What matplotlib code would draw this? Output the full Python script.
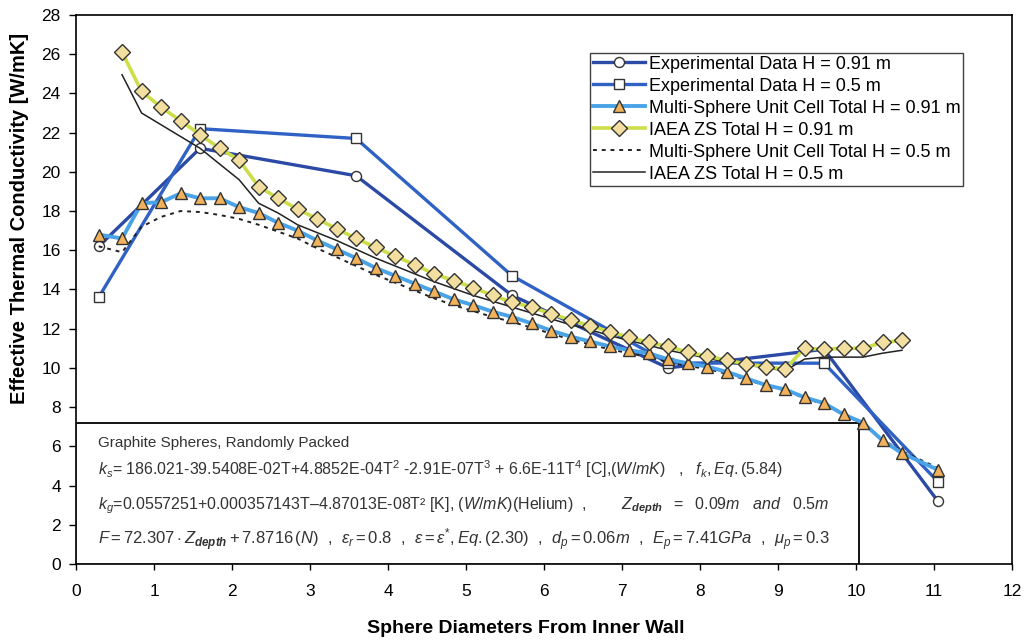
import matplotlib
matplotlib.use("Agg")
import matplotlib.pyplot as plt
from matplotlib.patches import Rectangle

plt.rcParams['font.family'] = ['Liberation Sans', 'DejaVu Sans']
plt.rcParams['mathtext.fontset'] = 'custom'
plt.rcParams['mathtext.rm'] = 'Liberation Sans'
plt.rcParams['mathtext.it'] = 'Liberation Sans:italic'
plt.rcParams['mathtext.bf'] = 'Liberation Sans:italic:bold'

# sphere-diameter positions of the model results
pos = [0.29, 0.59, 0.84, 1.09, 1.34, 1.59, 1.84, 2.09, 2.34, 2.59, 2.84,
       3.09, 3.34, 3.59, 3.84, 4.09, 4.34, 4.59, 4.84, 5.09, 5.34, 5.59,
       5.84, 6.09, 6.34, 6.59, 6.84, 7.09, 7.34, 7.59, 7.84, 8.09, 8.34,
       8.59, 8.84, 9.09, 9.34, 9.59, 9.84, 10.09, 10.34, 10.59, 11.05]
iaea_pos = pos[1:-1]

exp_pos = [0.29, 1.59, 3.59, 5.59, 7.59, 9.59, 11.05]
exp_091 = [16.2, 21.2, 19.8, 13.7, 10.0, 10.95, 3.2]
exp_05 = [13.6, 22.2, 21.7, 14.7, 10.25, 10.24, 4.2]

multi_091 = [16.8, 16.6, 18.4, 18.45, 18.9, 18.65, 18.65, 18.2, 17.9, 17.4,
             17.0, 16.5, 16.05, 15.6, 15.1, 14.7, 14.3, 13.9, 13.5, 13.2,
             12.87, 12.6, 12.27, 11.9, 11.6, 11.35, 11.1, 10.9, 10.75, 10.44,
             10.24, 10.07, 9.8, 9.47, 9.13, 8.9, 8.5, 8.2, 7.63, 7.2, 6.3,
             5.65, 4.8]
multi_05 = [16.2, 15.9, 17.2, 17.7, 18.0, 17.95, 17.8, 17.6, 17.3, 16.95,
            16.6, 16.1, 15.65, 15.2, 14.75, 14.35, 13.95, 13.55, 13.2, 12.9,
            12.6, 12.35, 12.05, 11.75, 11.45, 11.2, 10.95, 10.75, 10.55, 10.3,
            10.1, 9.95, 9.7, 9.4, 9.1, 8.85, 8.45, 8.15, 7.6, 7.15, 6.35,
            5.75, 4.9]
iaea_091 = [26.1, 24.1, 23.3, 22.6, 21.9, 21.2, 20.6, 19.25, 18.65, 18.1,
            17.6, 17.1, 16.6, 16.15, 15.7, 15.26, 14.8, 14.45, 14.1, 13.7,
            13.35, 13.1, 12.76, 12.45, 12.14, 11.85, 11.56, 11.3, 11.1, 10.8,
            10.6, 10.4, 10.2, 10.07, 9.93, 11.0, 10.95, 11.0, 11.0, 11.3, 11.4]
iaea_05 = [24.95, 23.0, 22.4, 21.8, 21.2, 20.4, 19.6, 18.4, 17.9, 17.3,
           16.9, 16.5, 16.05, 15.6, 15.2, 14.8, 14.4, 14.05, 13.7, 13.4,
           13.1, 12.8, 12.5, 12.2, 11.95, 11.65, 11.4, 11.15, 10.9, 10.7,
           10.5, 10.3, 10.15, 10.0, 9.85, 10.45, 10.55, 10.55, 10.55, 10.75,
           10.9]

fig = plt.figure(figsize=(10.29, 6.40), dpi=100)
ax = fig.add_axes([0.0739, 0.11875, 0.9096, 0.8579])

ax.plot(exp_pos, exp_091, color='#2b4aa6', lw=2.4, marker='o', ms=7.2,
        mfc='white', mec='#333333', mew=1.0, zorder=4,
        label='Experimental Data H = 0.91 m')
ax.plot(exp_pos, exp_05, color='#2f62c4', lw=2.4, marker='s', ms=6.8,
        mfc='white', mec='#333333', mew=1.0, zorder=4,
        label='Experimental Data H = 0.5 m')
ax.plot(pos, multi_091, color='#4aa3e6', lw=2.8, marker='^', ms=8.5,
        mfc='#f2b25c', mec='#333333', mew=1.0, zorder=5,
        label='Multi-Sphere Unit Cell Total H = 0.91 m')
ax.plot(iaea_pos, iaea_091, color='#cdde4a', lw=2.6, marker='D', ms=8,
        mfc='#f2dfa0', mec='#333333', mew=1.0, zorder=6,
        label='IAEA ZS Total H = 0.91 m')
ax.plot(pos, multi_05, color='#222222', lw=1.4, ls=(0, (2, 2.5)), zorder=4.5,
        label='Multi-Sphere Unit Cell Total H = 0.5 m')
ax.plot(iaea_pos, iaea_05, color='#222222', lw=1.1, zorder=4.5,
        label='IAEA ZS Total H = 0.5 m')

ax.set_xlim(0, 12)
ax.set_ylim(0, 28)
ax.set_xticks(range(0, 13))
ax.set_yticks(range(0, 29, 2))
ax.tick_params(axis='x', direction='out', length=4, width=1, pad=10.5, labelsize=12.5)
ax.tick_params(axis='y', direction='out', length=5, width=1, pad=6, labelsize=12.5)
for s in ax.spines.values():
    s.set_linewidth(1.2)

ax.set_xlabel('Sphere Diameters From Inner Wall', fontsize=14, fontweight='bold',
              labelpad=15)
ax.set_ylabel('Effective Thermal Conductivity [W/mK]', fontsize=14.5,
              fontweight='bold', labelpad=9)
ax.xaxis.label.set_x(0.48)
ax.yaxis.label.set_y(0.63)

leg = ax.legend(loc='upper left', bbox_to_anchor=(0.549, 0.931), fontsize=13,
                frameon=True, fancybox=False, handlelength=2.9, handletextpad=0.2,
                borderpad=0.15, labelspacing=0.28, borderaxespad=0)
leg.get_frame().set_edgecolor('#111111')
leg.get_frame().set_linewidth(1.0)

# material property box
ax.add_patch(Rectangle((0, 0), 10.04, 7.2, facecolor='white', edgecolor='#111111',
                       lw=1.4, zorder=3))
tc = '#333333'
ax.text(0.28, 6.15, 'Graphite Spheres, Randomly Packed', fontsize=11, color=tc,
        va='center', zorder=7)
ax.text(0.28, 4.85,
        r'$k_s$= 186.021-39.5408E-02T+4.8852E-04T$^2$ -2.91E-07T$^3$ + 6.6E-11T$^4$'
        r' [C],$(W/mK)$   ,   $f_k, Eq.(5.84)$',
        fontsize=11.5, color=tc, va='center', zorder=7)
ax.text(0.28, 2.95,
        r'$k_g$=0.0557251+0.000357143T–4.87013E-08T² [K], $(W/mK)$(Helium)  ,  '
        r'$\quad\quad Z_{\mathbf{depth}}\ \ =\ \ 0.09m\ \ \ and\ \ \ 0.5m$',
        fontsize=11.5, color=tc, va='center', zorder=7)
ax.text(0.28, 1.25,
        r'$F=72.307\cdot Z_{\mathbf{depth}}+7.8716\,(N)$  ,  $\varepsilon_r=0.8$  ,  '
        r'$\varepsilon=\varepsilon^{*}, Eq.(2.30)$  ,  $d_p=0.06m$  ,  '
        r'$E_p=7.41GPa$  ,  $\mu_p=0.3$',
        fontsize=12, color=tc, va='center', zorder=7)

fig.savefig('out.png', dpi=100)
